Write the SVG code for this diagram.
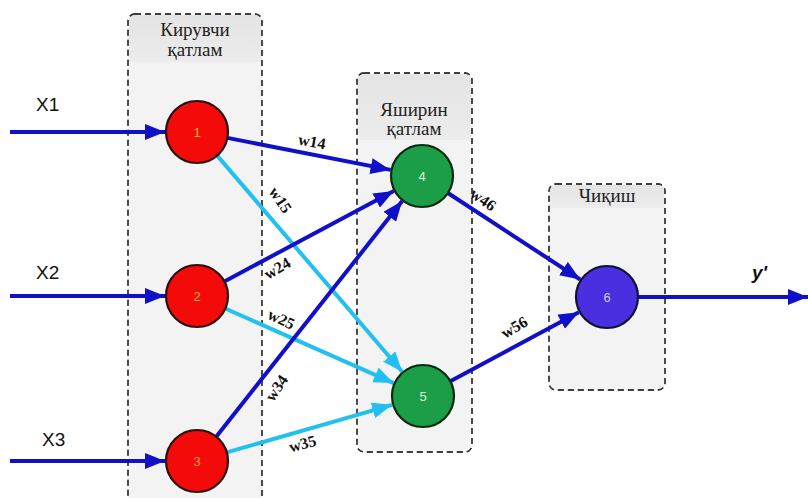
<svg xmlns="http://www.w3.org/2000/svg" width="808" height="498" viewBox="0 0 808 498">
<defs>
<linearGradient id="hdr" x1="0" y1="0" x2="0" y2="1"><stop offset="0" stop-color="#e4e4e4"/><stop offset="1" stop-color="#ececec"/></linearGradient>
<marker id="ab" markerUnits="userSpaceOnUse" markerWidth="20" markerHeight="16" viewBox="0 0 20 16" refX="20" refY="8" orient="auto"><path d="M0,0 L20,8 L0,16 Z" fill="#1010c8"/></marker>
<marker id="ac" markerUnits="userSpaceOnUse" markerWidth="20" markerHeight="16" viewBox="0 0 20 16" refX="20" refY="8" orient="auto"><path d="M0,0 L20,8 L0,16 Z" fill="#22c0f0"/></marker>
</defs>
<style>
.box{fill:#f3f3f3;stroke:#333;stroke-width:1.3;stroke-dasharray:6 4}
.ht{font-family:"Liberation Serif",serif;font-size:19px;fill:#222;text-anchor:middle}
.b{stroke:#1010c8;stroke-width:4;fill:none;marker-end:url(#ab)}
.c{stroke:#22c0f0;stroke-width:4;fill:none;marker-end:url(#ac)}
.w{font-family:"Liberation Serif",serif;font-size:16px;font-weight:bold;fill:#111;text-anchor:middle}
.n{stroke:#2a1010;stroke-width:2.2}
.nt{font-family:"Liberation Sans",sans-serif;font-size:13px;text-anchor:middle}
.x{font-family:"Liberation Sans",sans-serif;font-size:19px;fill:#111}
</style>
<rect width="808" height="498" fill="#fff"/>
<g id="layer-input">
<rect class="box" x="128" y="14" width="134" height="500" rx="7"/>
<path d="M129,62 V21 Q129,15 135,15 H255 Q261,15 261,21 V62 Z" fill="url(#hdr)"/>
<rect class="box" x="128" y="14" width="134" height="500" rx="7" style="fill:none"/>
<text class="ht" x="195" y="36">Кирувчи</text>
<text class="ht" x="195" y="56">қатлам</text>
</g>
<g id="layer-hidden">
<rect class="box" x="357" y="73" width="115" height="379" rx="7"/>
<path d="M358,140 V80 Q358,74 364,74 H465 Q471,74 471,80 V140 Z" fill="url(#hdr)"/>
<rect class="box" x="357" y="73" width="115" height="379" rx="7" style="fill:none"/>
<text class="ht" x="414" y="116">Яширин</text>
<text class="ht" x="414" y="135">қатлам</text>
</g>
<g id="layer-output">
<rect class="box" x="549" y="184" width="116" height="206" rx="7"/>
<path d="M550,208 V191 Q550,185 556,185 H658 Q664,185 664,191 V208 Z" fill="url(#hdr)"/>
<rect class="box" x="549" y="184" width="116" height="206" rx="7" style="fill:none"/>
<text class="ht" x="607" y="202">Чиқиш</text>
</g>
<g id="connectors">
<line class="b" x1="10" y1="132" x2="165" y2="132"/>
<line class="b" x1="10" y1="296" x2="165" y2="296"/>
<line class="b" x1="10" y1="461" x2="165" y2="461"/>
<line class="b" x1="639" y1="297" x2="808" y2="297"/>
<line class="b" x1="227.4" y1="137.9" x2="390.6" y2="169.9"/>
<line class="c" x1="217.2" y1="155.6" x2="402.2" y2="371.7"/>
<line class="b" x1="224.4" y1="281.4" x2="393.8" y2="191.1"/>
<line class="c" x1="225.3" y1="308.5" x2="393.7" y2="383.1"/>
<line class="b" x1="216.2" y1="436.7" x2="402.2" y2="201.1"/>
<line class="c" x1="226.8" y1="452.4" x2="392.2" y2="404.8"/>
<line class="b" x1="447.9" y1="193" x2="580.2" y2="279.5"/>
<line class="b" x1="450.3" y1="381.3" x2="578.8" y2="312.2"/>
<text class="w" transform="translate(311,147) rotate(10)">w14</text>
<text class="w" transform="translate(276,203) rotate(56)">w15</text>
<text class="w" transform="translate(280,273) rotate(-30)">w24</text>
<text class="w" transform="translate(279,324) rotate(25)">w25</text>
<text class="w" transform="translate(281,391) rotate(-56)">w34</text>
<text class="w" transform="translate(304,449) rotate(-15)">w35</text>
<text class="w" transform="translate(480,204) rotate(35)">w46</text>
<text class="w" transform="translate(517,332) rotate(-30)">w56</text>
</g>
<g id="node-1"><circle class="n" cx="197" cy="132" r="31" fill="#f50a0a"/><text class="nt" x="197" y="137" fill="#ffc020">1</text></g>
<g id="node-2"><circle class="n" cx="197" cy="296" r="31" fill="#f50a0a"/><text class="nt" x="197" y="301" fill="#ffb030">2</text></g>
<g id="node-3"><circle class="n" cx="197" cy="461" r="31" fill="#f50a0a"/><text class="nt" x="197" y="466" fill="#ff9a40">3</text></g>
<g id="node-4"><circle class="n" cx="422" cy="176" r="31" fill="#1c9e48" style="stroke:#0a2a10"/><text class="nt" x="422" y="181" fill="#d8f5d8">4</text></g>
<g id="node-5"><circle class="n" cx="423" cy="396" r="31" fill="#1c9e48" style="stroke:#0a2a10"/><text class="nt" x="423" y="401" fill="#d8f5d8">5</text></g>
<g id="node-6"><circle class="n" cx="607" cy="297" r="31" fill="#4a2fe0" style="stroke:#101030"/><text class="nt" x="607" y="302" fill="#d0d0e8">6</text></g>
<g id="labels">
<text class="x" x="36" y="111">X1</text>
<text class="x" x="36" y="279">X2</text>
<text class="x" x="42" y="446">X3</text>
<text class="x" x="752" y="279" style="font-weight:bold;font-style:italic">y'</text>
</g>
</svg>
